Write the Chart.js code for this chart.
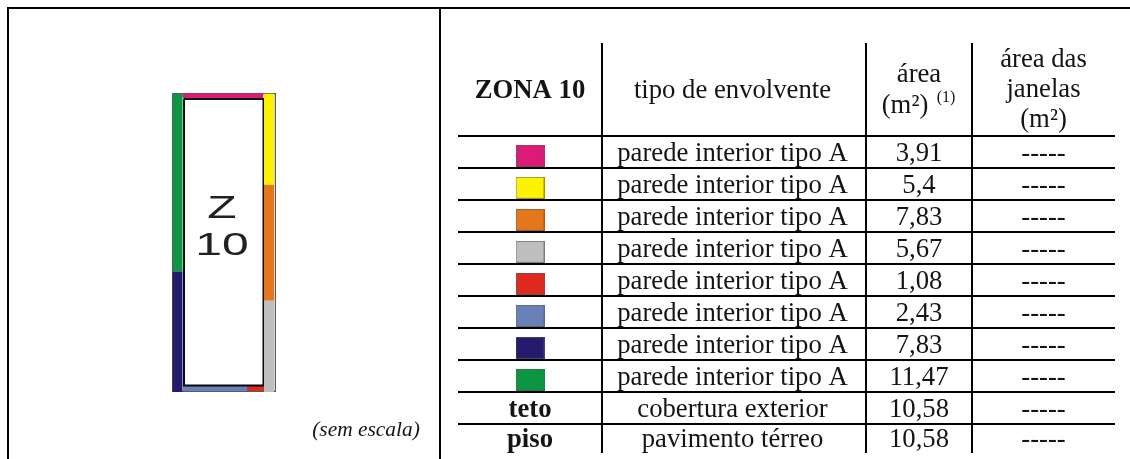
<!DOCTYPE html>
<html lang="pt">
<head>
<meta charset="utf-8">
<title>Zona 10</title>
<script src="https://cdn.jsdelivr.net/npm/chart.js@4"></script>
<style>
html,body{margin:0;padding:0;background:#fff;overflow:hidden;width:1130px;height:459px}
canvas{position:absolute}
#t{left:0;top:0}
#p{left:172px;top:93px}
</style>
</head>
<body>
<canvas id="t" width="1130" height="459"></canvas>
<canvas id="p" width="104" height="299"></canvas>
<script>
// ---- data ----
const zoneTitle = 'ZONA 10';
const envelopeTypes = ['parede interior tipo A','parede interior tipo A','parede interior tipo A','parede interior tipo A','parede interior tipo A','parede interior tipo A','parede interior tipo A','parede interior tipo A','cobertura exterior','pavimento térreo'];
const areas = [3.91,5.4,7.83,5.67,1.08,2.43,7.83,11.47,10.58,10.58];
const windowAreas = ['-----','-----','-----','-----','-----','-----','-----','-----','-----','-----'];
const rowNames = ['','','','','','','','','teto','piso'];
const swatchColors = ['#DC1A78','#FFF200','#E5761A','#BEBEBE','#DE2A1E','#6A80B8','#241A6E','#0B9642'];
// wall runs of the plan, in drawing units measured along each wall
const leftWallRuns = [11.47,7.83];
const rightWallRuns = [5.87,7.49,5.94];
const topWallRuns = [5.2];
const bottomWallRuns = [4.13,1.23];

// ---- layout / style (not data) ----
const BLACK='#000', INK='#141414';
const FONT='"Liberation Serif","Times New Roman",serif';
const colEdges=[144,408,514];
const colCentres=[72,274.5,461,585.5];
const TOP_PAD=43, LEFT_PAD=458, RIGHT_PAD=15, BOTTOM_PAD=6, ROW_PX=32, HEAD_PX=93;

function swatch(color){
  const c=document.createElement('canvas');c.width=29;c.height=22;
  const g=c.getContext('2d');
  g.fillStyle=color;g.fillRect(0,0,29,22);
  g.strokeStyle='rgba(90,90,90,0.65)';g.lineWidth=1;g.strokeRect(.5,.5,28,21);
  return c;
}

const tablePlugin={
  id:'tableText',
  afterDraw(chart){
    const {ctx,scales:{x,y}}=chart;
    const draw=(s,px,py,font)=>{
      ctx.save();ctx.font=font;ctx.fillStyle=INK;ctx.textAlign='center';ctx.textBaseline='alphabetic';
      ctx.fillText(s,px,py);ctx.restore();
    };
    const put=(s,xv,yv,font,dy=0,dx=0)=>draw(s,x.getPixelForValue(xv)+dx,y.getPixelForValue(yv)+dy,font);
    const body='26.7px '+FONT, bold='bold 26.7px '+FONT, small='16px '+FONT;
    ctx.save();
    // frame
    ctx.strokeStyle=BLACK;ctx.lineWidth=2;
    ctx.beginPath();ctx.moveTo(8,459);ctx.lineTo(8,8);ctx.lineTo(1130,8);ctx.moveTo(440,8);ctx.lineTo(440,459);ctx.stroke();
    // header (baselines in row units from the header rule)
    put(zoneTitle,colCentres[0],-1.19,bold);
    put('tipo de envolvente',colCentres[1],-1.19,body);
    put('área',colCentres[2],-1.70,body);
    put('(m²)',colCentres[2],-0.73,body,0,-14);
    put('(1)',colCentres[2],-1.07,small,0,27);
    put('área das',colCentres[3],-2.17,body);
    put('janelas',colCentres[3],-1.23,body);
    put('(m²)',colCentres[3],-0.27,body);
    // body
    envelopeTypes.forEach((s,i)=>{
      const c=i+0.5, dy=i===9?7:9;
      if(rowNames[i]) put(rowNames[i],colCentres[0],c,bold,dy);
      put(s,colCentres[1],c,body,dy);
      put(String(areas[i]).replace('.',','),colCentres[2],c,body,dy);
      put(windowAreas[i],colCentres[3],c,body,dy);
    });
    draw('(sem escala)',366,436,'italic 21.4px '+FONT);
    ctx.restore();
  }
};

new Chart(document.getElementById('t'),{
  type:'scatter',
  data:{datasets:[{
    data:swatchColors.map((_,i)=>({x:colCentres[0],y:i+0.62})),
    pointStyle:swatchColors.map(swatch),
    pointRadius:12,
    clip:false
  }]},
  options:{
    responsive:false,maintainAspectRatio:false,animation:false,devicePixelRatio:1,
    layout:{autoPadding:false,padding:{left:LEFT_PAD,top:TOP_PAD,right:RIGHT_PAD,bottom:BOTTOM_PAD}},
    plugins:{legend:{display:false},tooltip:{enabled:false}},
    scales:{
      x:{type:'linear',min:0,max:1130-LEFT_PAD-RIGHT_PAD,
        afterBuildTicks(s){s.ticks=colEdges.map(v=>({value:v}));},
        afterFit(s){s.height=0;},
        ticks:{display:false},border:{display:false},
        grid:{color:BLACK,lineWidth:2,drawTicks:false}},
      y:{type:'linear',reverse:true,min:-HEAD_PX/ROW_PX,max:(459-BOTTOM_PAD-TOP_PAD-HEAD_PX)/ROW_PX,
        afterBuildTicks(s){s.ticks=[0,1,2,3,4,5,6,7,8,9].map(v=>({value:v}));},
        afterFit(s){s.width=0;},
        ticks:{display:false},border:{display:false},
        grid:{color:BLACK,lineWidth:2,drawTicks:false}}
    }
  },
  plugins:[tablePlugin]
});

// ---- plan ----
const U=299/19.3;
const planW=104/U, planH=19.3;
const lx=5.5/U, rx=97/U, ty=3/U, by=295.5/U;
function run(runs,colors,fixed,axis,start){
  let pos=start;
  return runs.map((len,i)=>{
    const a=pos;pos+=len;
    const pts=axis==='y'?[{x:fixed,y:a},{x:fixed,y:pos}]:[{x:a,y:fixed},{x:pos,y:fixed}];
    return {type:'line',data:pts,borderColor:colors[i],borderCapStyle:'butt',pointRadius:0,borderWidth:axis==='y'?10:5,clip:false,tension:0};
  });
}
const inner=[{x:12/U,y:6/U},{x:91.5/U,y:6/U},{x:91.5/U,y:292.5/U},{x:12/U,y:292.5/U},{x:12/U,y:6/U}];
const outer=[{x:.5/U,y:.5/U},{x:103.5/U,y:.5/U},{x:103.5/U,y:298.5/U},{x:.5/U,y:298.5/U},{x:.5/U,y:.5/U}];
const planSets=[
  {type:'line',data:outer,borderColor:'#5a5a5a',borderWidth:1.5,pointRadius:0,clip:false,tension:0},
  ...run(topWallRuns,[swatchColors[0]],ty,'x',10.5/U),
  ...run(bottomWallRuns,[swatchColors[5],swatchColors[4]],by,'x',11/U),
  {type:'line',data:inner,borderColor:'#0a0a0a',borderWidth:2,pointRadius:0,clip:false,tension:0},
  ...run(rightWallRuns,[swatchColors[1],swatchColors[2],swatchColors[3]],rx,'y',0.05),
  ...run(leftWallRuns,[swatchColors[7],swatchColors[6]],lx,'y',0.05)
].map((d,i)=>({...d,order:-i}));

new Chart(document.getElementById('p'),{
  type:'line',
  data:{datasets:planSets},
  options:{
    responsive:false,maintainAspectRatio:false,animation:false,devicePixelRatio:1,
    layout:{autoPadding:false,padding:0},
    plugins:{legend:{display:false},tooltip:{enabled:false}},
    scales:{
      x:{type:'linear',display:false,min:0,max:planW},
      y:{type:'linear',display:false,reverse:true,min:0,max:planH}
    }
  },
  plugins:[{id:'zoneName',afterDraw(chart){
    const ctx=chart.ctx;
    ctx.save();ctx.fillStyle='#222';ctx.textAlign='center';ctx.textBaseline='alphabetic';
    ctx.font='31px "Liberation Sans",Arial,sans-serif';
    [['Z',125],['10',162]].forEach(([s,b])=>{
      ctx.save();ctx.translate(50,b);ctx.scale(1.55,1);ctx.fillText(s,0,0);ctx.restore();
    });
    ctx.restore();
  }}]
});
</script>
</body>
</html>
